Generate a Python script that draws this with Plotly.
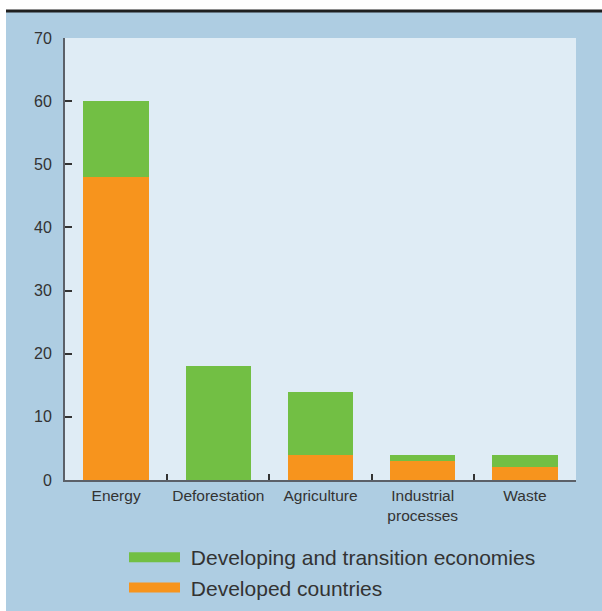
import plotly.graph_objects as go

categories = ["Energy", "Deforestation", "Agriculture", "Industrial<br>processes", "Waste"]
developed = [48, 0, 4, 3, 2]
developing = [12, 18, 10, 1, 2]
y_ticks = [0, 10, 20, 30, 40, 50, 60, 70]
legend_names = ["Developing and transition economies", "Developed countries"]

GREEN = "#72bf44"
ORANGE = "#f7941d"
OUTER = "#aecde2"
INNER = "#dfecf5"
AXIS = "#5b6068"
TEXT = "#333333"

FW, FH = 602, 611
L, T, W, H = 65, 38, 511, 442  # plot area in px


def px(x):
    return (x - L) / W


def py(y):
    return (T + H - y) / H


fig = go.Figure()
fig.add_trace(go.Bar(x=categories, y=developed, marker_color=ORANGE, marker_line_width=0,
                     width=0.64, showlegend=False, name=legend_names[1]))
fig.add_trace(go.Bar(x=categories, y=developing, marker_color=GREEN, marker_line_width=0,
                     width=0.64, showlegend=False, name=legend_names[0]))
fig.add_trace(go.Scatter(x=[None], y=[None], mode="lines", line=dict(color=GREEN, width=11),
                         name="\u00a0" + legend_names[0]))
fig.add_trace(go.Scatter(x=[None], y=[None], mode="lines", line=dict(color=ORANGE, width=11),
                         name="\u00a0" + legend_names[1]))

fig.update_layout(
    barmode="stack",
    width=FW, height=FH,
    margin=dict(l=L, r=FW - L - W, t=T, b=FH - T - H, autoexpand=False),
    paper_bgcolor=OUTER,
    plot_bgcolor=INNER,
    font=dict(family="Liberation Sans, Arial", color=TEXT, size=15),
    legend=dict(x=px(124), y=py(537), xanchor="left", yanchor="top", traceorder="normal",
                bgcolor="rgba(0,0,0,0)", itemwidth=51,
                font=dict(family="Liberation Sans, Arial", size=21, color=TEXT),
                tracegroupgap=0),
    shapes=[
        dict(type="rect", xref="paper", yref="paper", x0=px(-5), x1=px(6), y0=py(620), y1=py(-5),
             fillcolor="white", line_width=0, layer="below"),
        dict(type="rect", xref="paper", yref="paper", x0=px(-5), x1=px(610), y0=py(10), y1=py(-5),
             fillcolor="white", line_width=0, layer="below"),
        dict(type="line", xref="paper", yref="paper", x0=px(6), x1=px(610), y0=py(11), y1=py(11),
             line=dict(color="#1f1f1f", width=3)),
    ],
)
fig.update_xaxes(
    showline=True, linecolor=AXIS, linewidth=2,
    ticks="inside", tickson="boundaries", ticklen=6, tickcolor="#333", tickwidth=1.5,
    showgrid=False, tickfont=dict(size=15.5, color=TEXT),
)
fig.update_yaxes(
    range=[0, 70], tickvals=y_ticks, showline=True, linecolor=AXIS, linewidth=2,
    ticks="inside", ticklen=7, tickcolor="#333", tickwidth=1.5,
    showgrid=False, zeroline=False, tickfont=dict(size=16, color=TEXT), ticklabelstandoff=8,
)

fig.write_html(
    "out.html",
    config={"displayModeBar": False, "responsive": False},
    post_script=("document.body.style.margin='0';"
                 "document.body.style.background='" + OUTER + "';"
                 "document.documentElement.style.background='" + OUTER + "';"
                 "document.documentElement.style.overflow='hidden';"),
)
